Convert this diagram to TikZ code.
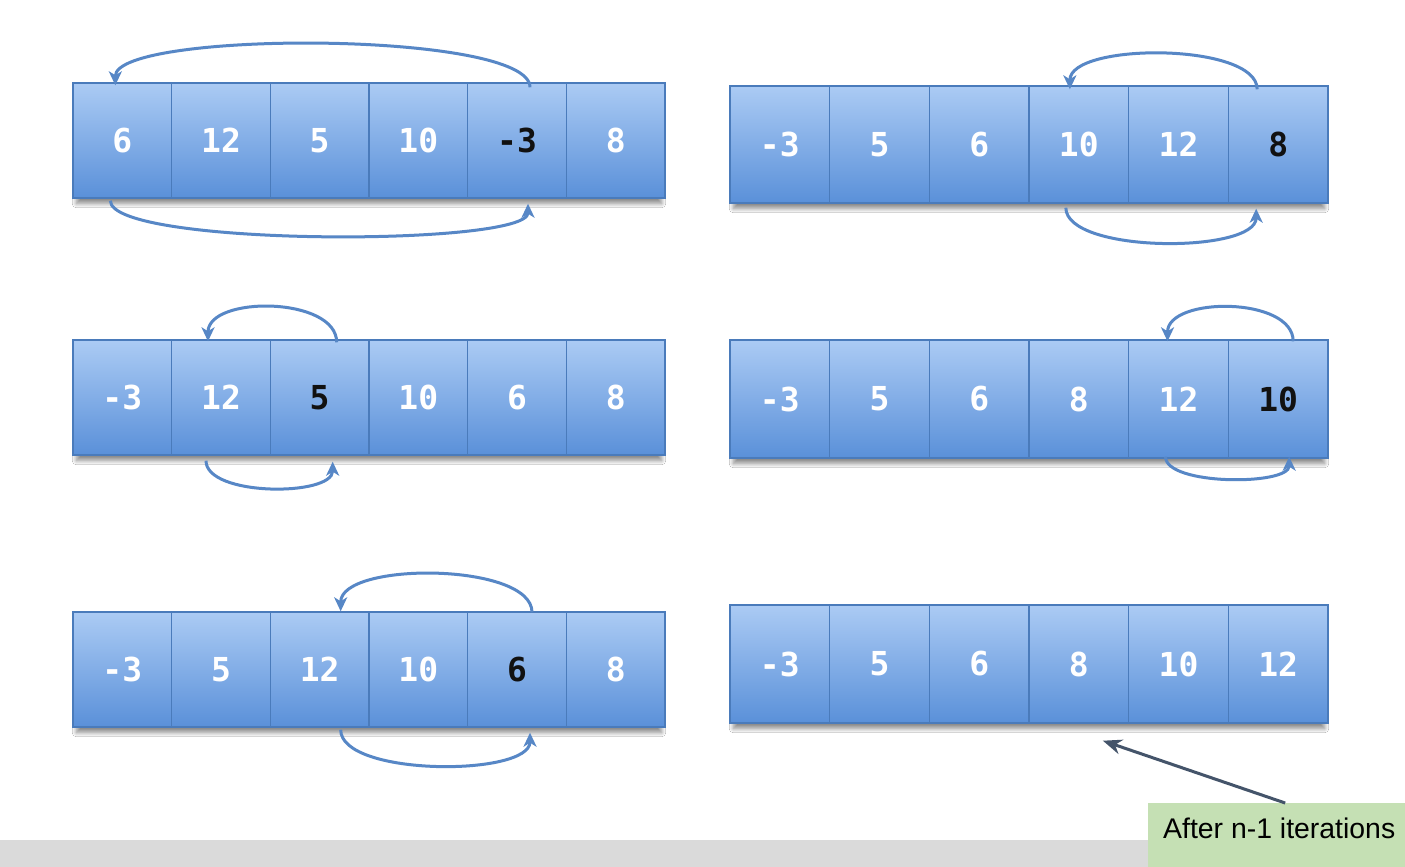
\documentclass[tikz,border=0pt]{standalone}
\usepackage{fontspec}
\setmainfont{Liberation Sans}
\newfontfamily\cellfont{DejaVu Sans Mono}
\usetikzlibrary{arrows.meta,shadows.blur}
\pgfdeclarelayer{background}
\pgfsetlayers{background,main}
\definecolor{cellTop}{HTML}{ABCBF4}
\definecolor{cellBot}{HTML}{5A90D9}
\definecolor{cellLine}{HTML}{4A7BBB}
\definecolor{arcBlue}{HTML}{5787C6}
\definecolor{numW}{HTML}{FFFFFF}
\definecolor{numK}{HTML}{111111}
\definecolor{noteGreen}{HTML}{C5E0B4}
\definecolor{barGray}{HTML}{DADADA}
\definecolor{pointerCol}{HTML}{44546A}
\newcommand\mkrow[6]{%
  \foreach \v/\c [count=\i] in {#6}
    \node[cell, text=\c, minimum width=#3pt, minimum height=#5pt] (#1c\i) at ({#2+#3*(\i-0.5)}, #4) {\v};}
\begin{document}
\begin{tikzpicture}[x=1pt,y=-1pt,
  cell/.style={draw=cellLine, line width=1.4pt, top color=cellTop, bottom color=cellBot,
    inner sep=0pt, font=\cellfont\bfseries\fontsize{33}{33}\selectfont},
  rowshadow/.style={blur shadow={shadow xshift=0pt, shadow yshift=-5pt, shadow blur radius=4pt,
    shadow blur steps=12, shadow opacity=45}},
  swaparc/.style={draw=arcBlue, line width=3pt, -{Stealth[length=14pt,width=13pt,inset=4pt]}},
  pointer/.style={draw=pointerCol, line width=3pt, -{Stealth[length=19pt,width=15pt]}},
  notebox/.style={fill=noteGreen, inner sep=0pt, minimum width=257pt, minimum height=64pt, anchor=north west},
  notetxt/.style={font=\fontsize{28.4}{30}\selectfont, inner sep=0pt, anchor=base west}
]
\useasboundingbox (0,0) rectangle (1405,867);

% arrays
\mkrow{L1}{73}{98.67}{140.5}{115}{6/numW,12/numW,5/numW,10/numW,-3/numK,8/numW}
\mkrow{R1}{730}{99.67}{144.5}{117}{-3/numW,5/numW,6/numW,10/numW,12/numW,8/numK}
\mkrow{L2}{73}{98.67}{397.5}{115}{-3/numW,12/numW,5/numK,10/numW,6/numW,8/numW}
\mkrow{R2}{730}{99.67}{399}{118}{-3/numW,5/numW,6/numW,8/numW,12/numW,10/numK}
\mkrow{L3}{73}{98.67}{669.5}{115}{-3/numW,5/numW,12/numW,10/numW,6/numK,8/numW}
\mkrow{R3}{730}{99.67}{664}{118}{-3/numW,5/numW,6/numW,8/numW,10/numW,12/numW}

\begin{pgfonlayer}{background}
\fill[white] (0,0) rectangle (1405,867);
\fill[barGray] (0,840) rectangle (1405,867);
\foreach \r in {L1,R1,L2,R2,L3,R3}
  \path[rowshadow] ([xshift=4pt,yshift=-12pt]\r c1.north west) rectangle ([xshift=-4pt]\r c6.south east);
\end{pgfonlayer}

% swap arcs
\draw[swaparc] ([xshift=13pt,yshift=-5pt]L1c5.north) .. controls +(0,-57) and +(0,-55) .. ([xshift=-7pt,yshift=-3pt]L1c1.north);
\draw[swaparc] ([xshift=-12pt,yshift=-2pt]L1c1.south) .. controls +(0,46) and +(0,43) .. ([xshift=11pt,yshift=-5pt]L1c5.south);

\draw[swaparc] ([xshift=-21pt,yshift=-4pt]R1c6.north) .. controls +(0,-47) and +(0,-47) .. ([xshift=-9pt,yshift=-4pt]R1c4.north);
\draw[swaparc] ([xshift=-13pt,yshift=-4pt]R1c4.south) .. controls +(0,46) and +(0,45) .. ([xshift=-22pt,yshift=-5pt]R1c6.south);

\draw[swaparc] ([xshift=17pt,yshift=-3pt]L2c3.north) .. controls +(0,-46) and +(0,-46) .. ([xshift=-13pt,yshift=-2pt]L2c2.north);
\draw[swaparc] ([xshift=-15pt,yshift=-5pt]L2c2.south) .. controls +(0,36) and +(0,35) .. ([xshift=13pt,yshift=-6pt]L2c3.south);

\draw[swaparc] ([xshift=15pt,yshift=-2pt]R2c6.north) .. controls +(0,-45) and +(0,-45) .. ([xshift=-11pt,yshift=-2pt]R2c5.north);
\draw[swaparc] ([xshift=-13pt,yshift=2pt]R2c5.south) .. controls +(0,29) and +(0,29) .. ([xshift=11pt,yshift=2pt]R2c6.south);

\draw[swaparc] ([xshift=15pt,yshift=-1pt]L3c5.north) .. controls +(0,-50) and +(0,-50) .. ([xshift=21pt]L3c3.north);
\draw[swaparc] ([xshift=21pt,yshift=-2pt]L3c3.south) .. controls +(0,47) and +(0,44) .. ([xshift=13pt,yshift=-5pt]L3c5.south);

% note
\node[notebox] (note) at (1148,803) {};
\node[notetxt] (notetext) at (1163,838) {After n-1 iterations};
\coordinate (tip) at ([xshift=24pt,yshift=-17pt]R3c4.south);
\draw[pointer] ([xshift=8.5pt]note.north) -- (tip);
\end{tikzpicture}
\end{document}
